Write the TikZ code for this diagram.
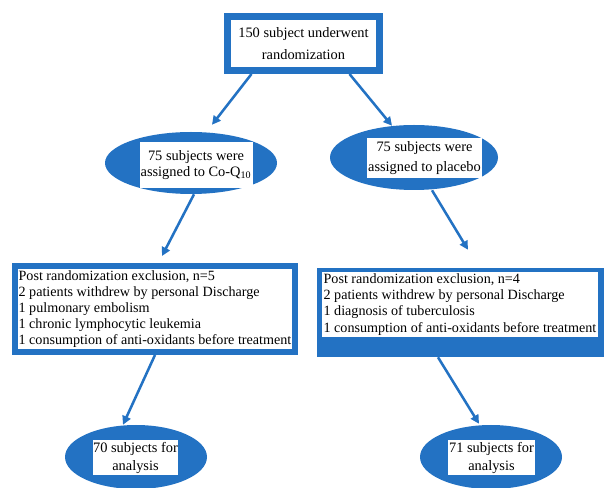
\documentclass[tikz,border=0pt]{standalone}
\usepackage{fontspec}
\setmainfont{Liberation Serif}
\usetikzlibrary{shapes.geometric,arrows.meta,calc}
\definecolor{mainblue}{RGB}{35,114,195}
\tikzset{
    bluebox/.style={draw=mainblue, fill=white, rectangle, inner sep=0pt},
    blueoval/.style={ellipse, fill=mainblue, inner sep=0pt},
    whitelabel/.style={fill=white, rectangle, inner sep=0pt},
    flowarrow/.style={draw=mainblue, line width=1.9pt, -{Triangle[length=6.5pt,width=6.5pt]}},
    boxtext/.style={font=\fontsize{10.6}{12.1}\selectfont}
}
\begin{document}
\begin{tikzpicture}[x=0.75pt,y=-0.75pt]
            \useasboundingbox (0,0) rectangle (604,488);
            \node [bluebox, line width=5.25pt, minimum width=114pt, minimum height=40.5pt, align=center, font=\fontsize{10.8}{16.5}\selectfont] (rand) at (303.5,43.5) {150 subject underwent\\randomization};
            \node [blueoval, minimum width=129pt, minimum height=46.5pt] (coq) at (191,163) {};
            \node [whitelabel, minimum width=84.75pt, minimum height=34.5pt, align=center, font=\fontsize{10.8}{11.5}\selectfont] (coqlabel) at (196,165) {75 subjects were\\assigned to Co-Q\textsubscript{10}};
            \node [blueoval, minimum width=126pt, minimum height=48.75pt] (plc) at (414,157.5) {};
            \node [whitelabel, minimum width=86.25pt, minimum height=30pt, align=center, font=\fontsize{10.8}{15}\selectfont] (plclabel) at (424.5,158) {75 subjects were\\assigned to placebo};
            \node [bluebox, line width=4.5pt, minimum width=210pt, minimum height=64.5pt, align=left, boxtext] (coqx) at (155,309) {Post randomization exclusion, n=5\\2 patients withdrew by personal Discharge\\1 pulmonary embolism\\1 chronic lymphocytic leukemia\\1 consumption of anti-oxidants before treatment};
            \node [rectangle, fill=mainblue, minimum width=215.25pt, minimum height=66.75pt] (plcx) at (460.5,312.5) {};
            \node [whitelabel, minimum width=207pt, minimum height=48.75pt, align=left, boxtext] (plcxlabel) at (460,304.5) {Post randomization exclusion, n=4\\2 patients withdrew by personal Discharge\\1 diagnosis of tuberculosis\\1 consumption of anti-oxidants before treatment};
            \node [blueoval, minimum width=106.5pt, minimum height=48pt] (coqend) at (136,457) {};
            \node [whitelabel, minimum width=63.75pt, minimum height=26.25pt, align=center, font=\fontsize{10.8}{13.5}\selectfont] (coqendlabel) at (135.5,457.5) {70 subjects for\\analysis};
            \node [blueoval, minimum width=106.5pt, minimum height=48pt] (plcend) at (491,457) {};
            \node [whitelabel, minimum width=65.25pt, minimum height=26.25pt, align=center, font=\fontsize{10.8}{13.5}\selectfont] (plcendlabel) at (491.5,457.5) {71 subjects for\\analysis};
            \draw [flowarrow] ($(rand.south)+(-52,0)$) -- ($(coq.north)+(21,-7)$);
            \draw [flowarrow] ($(rand.south)+(46,0)$) -- ($(plc.north)+(-22,1)$);
            \draw [flowarrow] ($(coq.south)+(3,0)$) -- ($(coqx.north)+(7,-7)$);
            \draw [flowarrow] ($(plc.south)+(18,0)$) -- ($(plcx.north)+(7.5,-18)$);
            \draw [flowarrow] ($(coqx.south)+(0,0)$) -- ($(coqend.north)+(-13,0)$);
            \draw [flowarrow] ($(plcx.south)+(-22.5,0)$) -- ($(plcend.north)+(-12,-1)$);
        \end{tikzpicture}
\end{document}
